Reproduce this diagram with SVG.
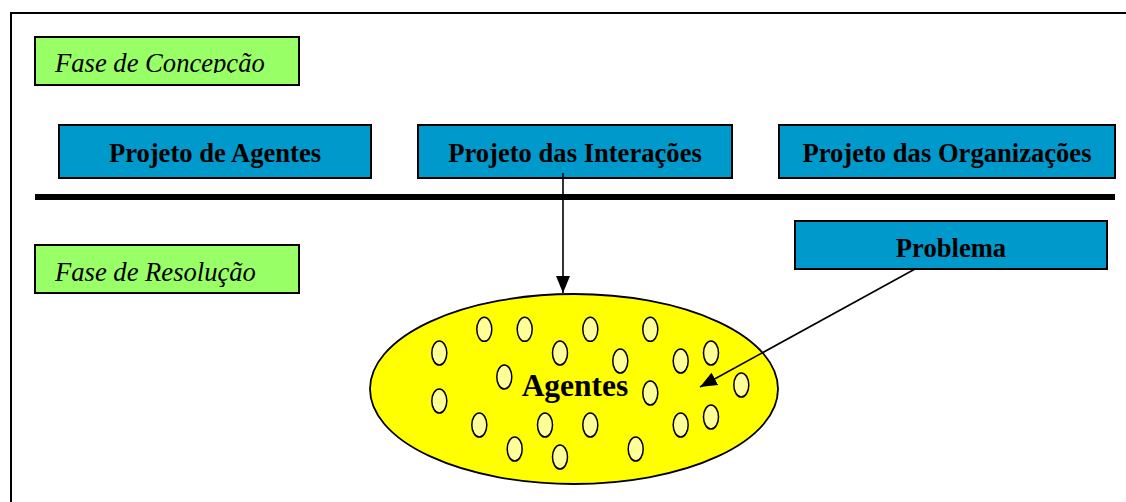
<svg xmlns="http://www.w3.org/2000/svg" width="1126" height="502" viewBox="0 0 1126 502">
<defs>
<style>
.frame{fill:#fff;stroke:#000;stroke-width:2}
.phase{fill:#99FF66;stroke:#000;stroke-width:2}
.blue{fill:#0099CC;stroke:#000;stroke-width:2}
.ptxt{font-family:"Liberation Serif","Times New Roman",serif;font-style:italic;font-size:26.6px;fill:#000}
.btxt{font-family:"Liberation Serif","Times New Roman",serif;font-weight:bold;font-size:26.6px;fill:#000;text-anchor:middle}
.big{fill:#FFFF00;stroke:#000;stroke-width:1.8}
.ag{fill:#FFFF99;stroke:#000;stroke-width:1.5}
.conn{stroke:#000;stroke-width:1.6;fill:none}
</style>
<marker id="ah" markerUnits="userSpaceOnUse" markerWidth="18" markerHeight="14" refX="17" refY="7" orient="auto">
<path d="M0,0 L17,7 L0,14 Z" fill="#000"/>
</marker>
<clipPath id="clipC"><rect x="36" y="38" width="262" height="35"/></clipPath>
</defs>
<rect class="frame" x="11" y="13" width="1130" height="500"/>
<g id="fase-concepcao">
<rect class="phase" x="35" y="37" width="264" height="48"/>
<text class="ptxt" x="55" y="72" clip-path="url(#clipC)">Fase de Concepção</text>
</g>
<g id="projeto-agentes">
<rect class="blue" x="59" y="125" width="312" height="53"/>
<text class="btxt" x="215" y="162">Projeto de Agentes</text>
</g>
<g id="projeto-interacoes">
<rect class="blue" x="418" y="125" width="314" height="53"/>
<text class="btxt" x="575" y="162">Projeto das Interações</text>
</g>
<g id="projeto-organizacoes">
<rect class="blue" x="779" y="125" width="336" height="53"/>
<text class="btxt" x="947" y="162">Projeto das Organizações</text>
</g>
<g id="separador">
<rect x="35" y="194" width="1080" height="6" fill="#000"/>
</g>
<g id="fase-resolucao">
<rect class="phase" x="35" y="245" width="264" height="48"/>
<text class="ptxt" x="55" y="281">Fase de Resolução</text>
</g>
<g id="problema">
<rect class="blue" x="795" y="221" width="312" height="48"/>
<text class="btxt" x="951" y="257">Problema</text>
</g>
<g id="agentes">
<ellipse class="big" cx="574" cy="389" rx="204" ry="95"/>
<g>
<ellipse class="ag" cx="484.3" cy="329.3" rx="7.5" ry="12"/>
<ellipse class="ag" cx="524.7" cy="329.3" rx="7.5" ry="12"/>
<ellipse class="ag" cx="590.3" cy="329.3" rx="7.5" ry="12"/>
<ellipse class="ag" cx="650.3" cy="329.3" rx="7.5" ry="12"/>
<ellipse class="ag" cx="439.3" cy="353" rx="7.5" ry="12"/>
<ellipse class="ag" cx="560" cy="353" rx="7.5" ry="12"/>
<ellipse class="ag" cx="620.3" cy="361" rx="7.5" ry="12"/>
<ellipse class="ag" cx="680.7" cy="361" rx="7.5" ry="12"/>
<ellipse class="ag" cx="711" cy="353" rx="7.5" ry="12"/>
<ellipse class="ag" cx="504.3" cy="377" rx="7.5" ry="12"/>
<ellipse class="ag" cx="741.3" cy="385" rx="7.5" ry="12"/>
<ellipse class="ag" cx="439.3" cy="401" rx="7.5" ry="12"/>
<ellipse class="ag" cx="650.3" cy="393" rx="7.5" ry="12"/>
<ellipse class="ag" cx="479.3" cy="425" rx="7.5" ry="12"/>
<ellipse class="ag" cx="545" cy="425" rx="7.5" ry="12"/>
<ellipse class="ag" cx="590.3" cy="425" rx="7.5" ry="12"/>
<ellipse class="ag" cx="680.7" cy="425" rx="7.5" ry="12"/>
<ellipse class="ag" cx="711" cy="417" rx="7.5" ry="12"/>
<ellipse class="ag" cx="514.7" cy="449" rx="7.5" ry="12"/>
<ellipse class="ag" cx="560" cy="457" rx="7.5" ry="12"/>
<ellipse class="ag" cx="635.7" cy="449" rx="7.5" ry="12"/>
</g>
<text class="btxt" x="575" y="396" style="font-size:31.5px">Agentes</text>
</g>
<g id="connectors">
<line class="conn" x1="563" y1="173" x2="563" y2="293" marker-end="url(#ah)"/>
<line class="conn" x1="915" y1="269" x2="700" y2="387" marker-end="url(#ah)"/>
</g>
</svg>
